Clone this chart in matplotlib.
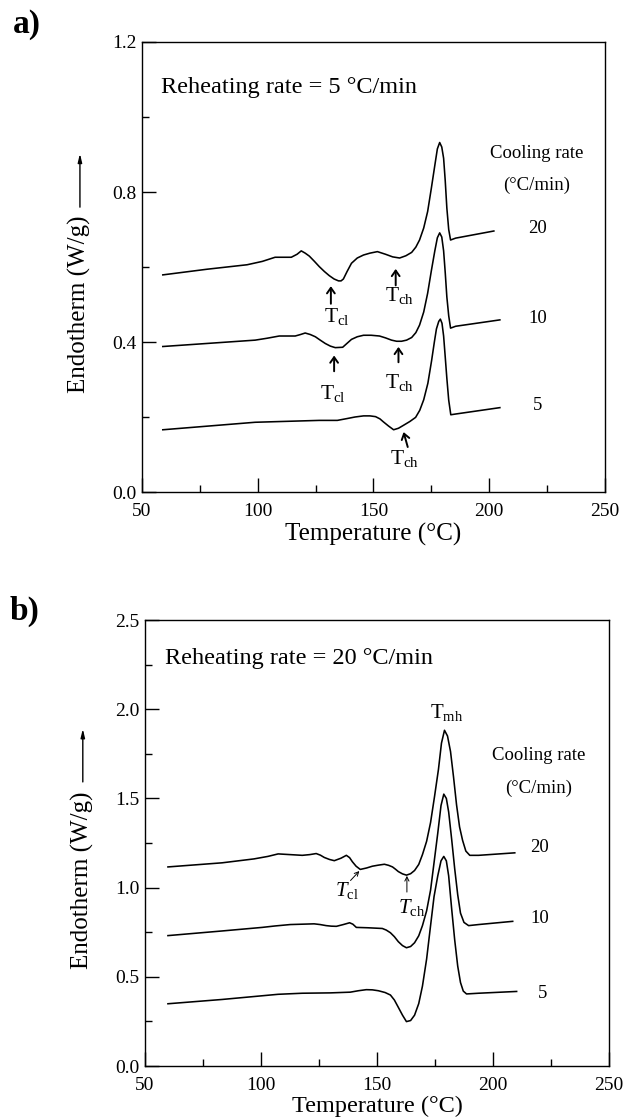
import matplotlib
matplotlib.use('Agg')
import matplotlib.pyplot as plt
from matplotlib.ticker import MultipleLocator, FormatStrFormatter

plt.rcParams['font.family'] = ['Liberation Serif', 'DejaVu Serif']
plt.rcParams['mathtext.fontset'] = 'custom'
plt.rcParams['mathtext.rm'] = 'Liberation Serif'
plt.rcParams['mathtext.it'] = 'Liberation Serif:italic'

# ---------------- Panel a: reheating rate 5 C/min ----------------
a20_T = [59, 78, 95.4, 102, 107.5, 114.5, 117.0, 118.8, 120.5, 122.3, 124.5, 126.6, 128.8, 130.9,
         133.0, 134.9, 136.0, 137, 138.6, 140.5, 143.0, 145.7, 148.5, 151.7, 155.2, 158.3,
         161.3, 164.0, 166.5, 168.3, 169.9, 171.7, 173.4, 175.0, 176.5, 177.6, 178.6, 179.5,
         180.3, 181.0, 181.7, 182.5, 183.3, 185.5, 202]
a20_E = [0.579, 0.594, 0.606, 0.615, 0.626, 0.626, 0.634, 0.643, 0.637, 0.629, 0.615, 0.601,
         0.588, 0.577, 0.568, 0.563, 0.563, 0.568, 0.588, 0.610, 0.624, 0.632, 0.637, 0.641,
         0.634, 0.627, 0.624, 0.630, 0.639, 0.653, 0.672, 0.704, 0.748, 0.810, 0.871, 0.915,
         0.932, 0.920, 0.890, 0.830, 0.757, 0.700, 0.672, 0.677, 0.696]

a10_T = [59, 98.9, 104, 109.3, 116.2, 118.5, 120.5, 122.7, 124.9, 127.0, 129.2, 131.4, 133.5,
         136.7, 138.5, 140.5, 143.0, 145.7, 149.0, 152.6, 155.2, 157.8, 160.0, 162.1, 164.3,
         166.5, 168.3, 169.9, 171.7, 173.4, 175.0, 176.5, 177.6, 178.6, 179.5, 180.3, 181.0,
         181.7, 182.5, 183.3, 185.5, 204.6]
a10_E = [0.388, 0.405, 0.410, 0.416, 0.416, 0.420, 0.424, 0.420, 0.414, 0.405, 0.396, 0.389,
         0.385, 0.386, 0.396, 0.407, 0.414, 0.418, 0.418, 0.416, 0.411, 0.405, 0.402, 0.402,
         0.405, 0.412, 0.425, 0.445, 0.480, 0.530, 0.590, 0.643, 0.678, 0.691, 0.680, 0.643,
         0.585, 0.520, 0.470, 0.437, 0.442, 0.459]

a5_T = [59, 98.9, 126.6, 134.4, 138.7, 142.0, 145.7, 148.5, 150.9, 152.8, 154.3, 156.5, 158.7,
        160.8, 163.0, 165.7, 168.2, 170.0, 171.7, 173.5, 175.1, 176.3, 177.2, 178.2, 178.9,
        179.6, 180.3, 181.0, 181.7, 182.5, 183.4, 185.5, 204.6]
a5_E = [0.166, 0.186, 0.191, 0.191, 0.196, 0.200, 0.203, 0.203, 0.201, 0.195, 0.187, 0.176,
        0.166, 0.170, 0.178, 0.188, 0.199, 0.218, 0.246, 0.290, 0.350, 0.400, 0.435, 0.455,
        0.461, 0.450, 0.416, 0.360, 0.303, 0.245, 0.206, 0.208, 0.225]

# ---------------- Panel b: reheating rate 20 C/min ----------------
b20_T = [59.9, 83.2, 97.0, 103.0, 107.4, 112.6, 117.8, 121.0, 123.8, 125.6, 127.3, 129.5, 131.6,
         134.5, 136.8, 138.2, 139.4, 141.0, 142.8, 145.5, 148.0, 150.6, 153.2, 155.0, 156.7,
         158.0, 159.2, 161.0, 162.7, 164.5, 166.2, 168.0, 169.6, 171.4, 173.1, 174.8, 176.5,
         177.8, 179.1, 180.4, 181.7, 183.0, 184.3, 185.6, 186.9, 188.3, 190.0, 193.8, 209.4]
b20_E = [1.116, 1.139, 1.161, 1.175, 1.189, 1.185, 1.181, 1.185, 1.191, 1.182, 1.169, 1.158,
         1.151, 1.165, 1.181, 1.168, 1.145, 1.120, 1.102, 1.110, 1.120, 1.126, 1.131, 1.125,
         1.116, 1.103, 1.090, 1.077, 1.070, 1.078, 1.096, 1.130, 1.185, 1.260, 1.365, 1.510,
         1.663, 1.810, 1.882, 1.850, 1.763, 1.620, 1.464, 1.340, 1.265, 1.205, 1.181, 1.181,
         1.195]

b10_T = [59.9, 83.2, 100.5, 106.0, 112.6, 122.9, 125.5, 128.1, 130.3, 132.5, 135.5, 138.2,
         139.6, 141.1, 146.0, 152.3, 154.0, 155.8, 157.5, 159.2, 161.0, 162.7, 164.5, 166.2,
         168.0, 169.6, 171.4, 173.1, 174.6, 176.2, 177.6, 178.8, 179.9, 180.9, 182.2, 183.5,
         184.8, 186.0, 187.5, 189.5, 193.8, 208.5]
b10_E = [0.731, 0.757, 0.777, 0.785, 0.793, 0.797, 0.793, 0.787, 0.784, 0.783, 0.793, 0.803,
         0.795, 0.777, 0.775, 0.771, 0.762, 0.747, 0.725, 0.697, 0.675, 0.663, 0.670, 0.691,
         0.730, 0.787, 0.870, 0.986, 1.140, 1.305, 1.460, 1.524, 1.500, 1.424, 1.270, 1.106,
         0.960, 0.857, 0.805, 0.787, 0.793, 0.811]

b5_T = [59.9, 83.2, 107.4, 117.8, 130.0, 138.5, 142.0, 145.4, 148.0, 150.6, 153.5, 155.8,
        157.5, 159.2, 161.0, 162.7, 164.5, 166.2, 168.0, 169.6, 171.4, 173.1, 174.6, 176.2,
        177.6, 178.8, 179.9, 180.9, 182.2, 183.5, 184.8, 186.0, 187.2, 188.6, 193.8, 210.2]
b5_E = [0.349, 0.373, 0.402, 0.408, 0.410, 0.414, 0.422, 0.428, 0.427, 0.422, 0.412, 0.398,
        0.370, 0.329, 0.285, 0.249, 0.255, 0.285, 0.350, 0.448, 0.600, 0.787, 0.950, 1.066,
        1.150, 1.175, 1.150, 1.066, 0.880, 0.707, 0.560, 0.468, 0.420, 0.404, 0.408, 0.418]

cooling_labels = ['20', '10', '5']
a_label_y = [0.702, 0.464, 0.232]
b_label_y = [1.225, 0.827, 0.409]

fig = plt.figure(figsize=(6.26, 11.2), dpi=100)
axA = fig.add_axes([0.2268, 0.5607, 0.7396, 0.4018])
axB = fig.add_axes([0.2316, 0.0482, 0.7412, 0.3982])

lw = 1.15
for T, E in [(a20_T, a20_E), (a10_T, a10_E), (a5_T, a5_E)]:
    axA.plot(T, E, color='black', lw=lw)
for T, E in [(b20_T, b20_E), (b10_T, b10_E), (b5_T, b5_E)]:
    axB.plot(T, E, color='black', lw=lw)

def style(ax, ymax, ymaj, ymin):
    ax.set_xlim(50, 250)
    ax.set_ylim(0, ymax)
    ax.xaxis.set_major_locator(MultipleLocator(50))
    ax.xaxis.set_minor_locator(MultipleLocator(25))
    ax.yaxis.set_major_locator(MultipleLocator(ymaj))
    ax.yaxis.set_minor_locator(MultipleLocator(ymin))
    ax.yaxis.set_major_formatter(FormatStrFormatter('%.1f'))
    ax.tick_params(which='both', direction='in', top=False, right=False, width=1.0,
                   labelsize=14)
    ax.tick_params(which='major', length=10)
    ax.tick_params(which='minor', length=5)
    ax.tick_params(axis='x', pad=8)
    ax.tick_params(axis='y', pad=4)
    for s in ax.spines.values():
        s.set_linewidth(1.0)

style(axA, 1.2, 0.4, 0.2)
style(axB, 2.5, 0.5, 0.25)

def ylab(ax, ycen, y0, y1):
    ax.text(-0.134, ycen, 'Endotherm (W/g)', rotation=90, transform=ax.transAxes,
            ha='center', va='center', fontsize=18)
    ax.annotate('', xy=(-0.134, y1), xytext=(-0.134, y0), xycoords='axes fraction',
                textcoords='axes fraction', annotation_clip=False,
                arrowprops=dict(arrowstyle='-|>,head_length=0.5,head_width=0.12',
                                lw=1.0, color='black', shrinkA=0, shrinkB=0))

ylab(axA, 0.418, 0.633, 0.752)
ylab(axB, 0.417, 0.637, 0.756)

axA.text(0.5, -0.094, 'Temperature (°C)', transform=axA.transAxes, ha='center',
         va='center', fontsize=18)
axB.text(0.5, -0.091, 'Temperature (°C)', transform=axB.transAxes, ha='center',
         va='center', fontsize=17.5)

# titles inside
axA.text(58.1, 1.079, 'Reheating rate = 5 °C/min', fontsize=17.5, va='center', ha='left')
axB.text(58.6, 2.285, 'Reheating rate = 20 °C/min', fontsize=17.5, va='center', ha='left')

# cooling rate legend text
axA.text(220.6, 0.904, 'Cooling rate', fontsize=13.5, ha='center', va='center')
axA.text(220.6, 0.819, '(°C/min)', fontsize=13.5, ha='center', va='center')
axB.text(219.8, 1.743, 'Cooling rate', fontsize=13.5, ha='center', va='center')
axB.text(219.8, 1.554, '(°C/min)', fontsize=13.5, ha='center', va='center')
for lab, ya, yb in zip(cooling_labels, a_label_y, b_label_y):
    axA.text(221.0, ya, lab, fontsize=13.5, ha='center', va='center')
    axB.text(220.0 if lab != '5' else 221.5, yb, lab, fontsize=13.5, ha='center', va='center')

# annotations panel a
arr = dict(arrowstyle='->,head_length=0.4,head_width=0.28', lw=1.4, color='black',
           shrinkA=0, shrinkB=0)
axA.annotate('', xy=(131.6, 0.549), xytext=(131.6, 0.502), arrowprops=arr)
axA.text(134.2, 0.467, r'$\mathrm{T}_{\mathrm{cl}}$', fontsize=15.5, ha='center', va='center')
axA.annotate('', xy=(159.6, 0.595), xytext=(159.6, 0.551), arrowprops=arr)
axA.text(161.4, 0.525, r'$\mathrm{T}_{\mathrm{ch}}$', fontsize=15.5, ha='center', va='center')
axA.annotate('', xy=(133.0, 0.364), xytext=(133.0, 0.322), arrowprops=arr)
axA.text(132.5, 0.264, r'$\mathrm{T}_{\mathrm{cl}}$', fontsize=15.5, ha='center', va='center')
axA.annotate('', xy=(160.8, 0.387), xytext=(160.8, 0.346), arrowprops=arr)
axA.text(161.4, 0.291, r'$\mathrm{T}_{\mathrm{ch}}$', fontsize=15.5, ha='center', va='center')
axA.annotate('', xy=(163.0, 0.160), xytext=(164.8, 0.120), arrowprops=arr)
axA.text(163.5, 0.090, r'$\mathrm{T}_{\mathrm{ch}}$', fontsize=15.5, ha='center', va='center')

# annotations panel b
arr2 = dict(arrowstyle='->,head_length=0.3,head_width=0.15', lw=0.7, color='black',
            shrinkA=0, shrinkB=0)
axB.annotate('', xy=(142.4, 1.093), xytext=(138.6, 1.040), arrowprops=arr2)
axB.text(137.1, 0.986, r'$T_{\mathrm{cl}}$', fontsize=15, ha='center', va='center')
axB.annotate('', xy=(162.9, 1.066), xytext=(162.9, 0.975), arrowprops=arr2)
axB.text(164.7, 0.891, r'$T_{\mathrm{ch}}$', fontsize=15, ha='center', va='center')
axB.text(180.0, 1.982, r'$\mathrm{T}_{\mathrm{mh}}$', fontsize=15, ha='center', va='center')

fig.text(27 / 626, 1 - 25 / 1120, 'a)', fontsize=24, fontweight='bold', ha='center', va='center')
fig.text(24 / 626, 1 - 611 / 1120, 'b)', fontsize=24, fontweight='bold', ha='center', va='center')

fig.savefig('out.png', dpi=100)
